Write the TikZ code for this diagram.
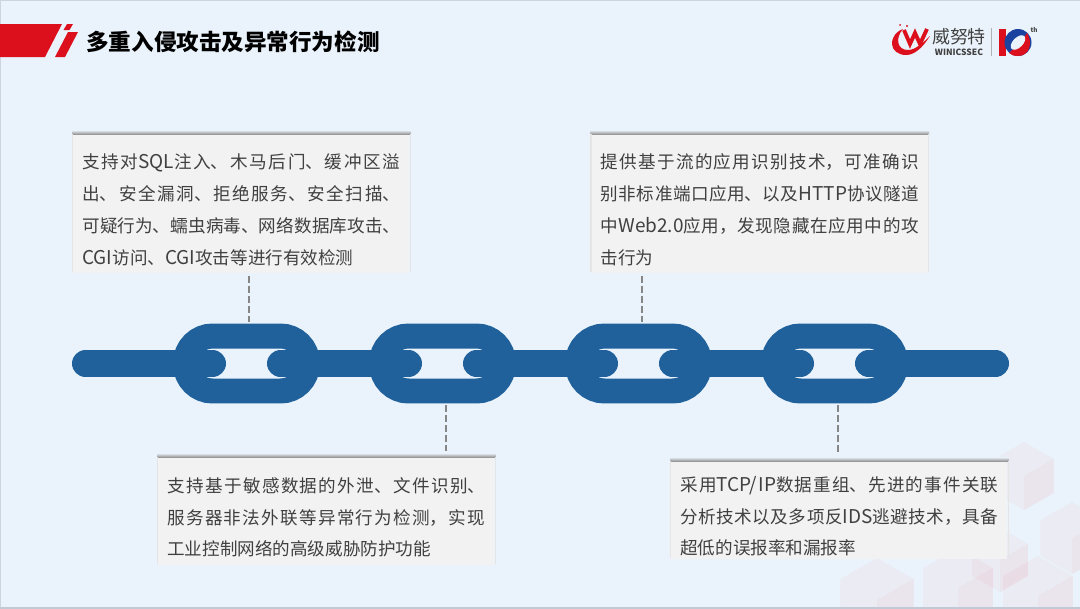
\documentclass[tikz,border=0pt]{standalone}
\usepackage{fontspec}
\setmainfont{Noto Sans CJK SC}
\usepackage{tikz}
\usetikzlibrary{calc}
\XeTeXlinebreaklocale "zh"
\XeTeXlinebreakskip=0pt plus 2pt
\newcommand{\en}[1]{{\fontsize{10.8}{18.3}\selectfont #1}}
\definecolor{pagebg}{RGB}{234,243,251}
\definecolor{edgegray}{RGB}{203,212,224}
\definecolor{chainblue}{RGB}{32,97,155}
\definecolor{boxgray}{RGB}{242,242,242}
\definecolor{bannerred}{RGB}{220,16,28}
\definecolor{logoblue}{RGB}{28,66,160}
\definecolor{textdark}{RGB}{64,64,64}

\begin{document}
\begin{tikzpicture}[
  x=0.02cm, y=-0.02cm,
  linkbox/.style={rectangle, draw=chainblue, line width=0.5cm, rounded corners=0.54cm,
                  minimum width=2.44cm, minimum height=1.1cm, inner sep=0pt},
  chainbar/.style={draw=chainblue, line width=0.54cm, line cap=round},
  infobox/.style={rectangle, fill=boxgray, text=textdark, anchor=north west, align=justify,
                  font=\fontsize{10}{18.1}\selectfont, inner xsep=0.18cm, inner ysep=0pt,
                  execute at begin node={\tolerance=9999\hbadness=10000\lineskiplimit=-10pt\rule{0pt}{0.54cm}}},
  leader/.style={draw=gray!95, line width=1.35pt, dash pattern=on 0.14cm off 0.06cm},
  topedge/.style={top color=pagebg, bottom color=gray!80},
  sideedge/.style={draw=gray!20, line width=0.6pt},
  hexfill/.style={fill=red!75!pink, fill opacity=0.04},
  hexside/.style={fill=red!75!pink, fill opacity=0.035}
]
\useasboundingbox (0,0) rectangle (1080,609);
\fill[pagebg] (0,0) rectangle (1080,609);
% ── Cubes in the corner ───────────────
\foreach \cx/\cy/\r in {1024/476/34, 1072/538/36, 877/600/42, 958/588/40, 1038/596/40, 1000/560/32}{
  \fill[hexfill] (\cx,\cy-\r) -- (\cx+.87*\r,\cy-.5*\r) -- (\cx+.87*\r,\cy+.5*\r)
    -- (\cx,\cy+\r) -- (\cx-.87*\r,\cy+.5*\r) -- (\cx-.87*\r,\cy-.5*\r) -- cycle;
  \fill[hexside] (\cx,\cy) -- (\cx+.87*\r,\cy-.5*\r) -- (\cx+.87*\r,\cy+.5*\r) -- (\cx,\cy+\r) -- cycle;
}
\fill[edgegray] (0,0) rectangle (1080,1.2);
\fill[edgegray] (0,0) rectangle (1,609);
\fill[edgegray!95!black] (0,606.5) rectangle (1080,609);
% ── Header ────────────────────────────
\fill[bannerred] (0,24) -- (62,24) -- (45,57) -- (0,57) -- cycle;
\fill[bannerred] (67,24) -- (73,24) -- (69.5,30) -- (63.5,30) -- cycle;
\fill[bannerred] (68,32) -- (78,32) -- (65,57) -- (55,57) -- cycle;
\node[font=\fontsize{12.84}{16}\selectfont\bfseries, text=black, anchor=west, inner sep=0pt] (title) at (86,42)
  {多重入侵攻击及异常行为检测};
% ── Logo ──────────────────────────────
\fill[bannerred] (892,44) .. controls (892,36) and (897,31) .. (903,29)
  .. controls (895,38) and (897,50) .. (908,50) .. controls (915,50) and (923,43) .. (930,36)
  .. controls (923,47) and (915,55) .. (906,55) .. controls (898,55) and (892,50) .. (892,44) -- cycle;
\draw[bannerred, line width=2.2pt, line join=miter] (904,30) -- (910,44) -- (915,33) -- (920,44) -- (927,29);
\fill[bannerred] (900,25) circle (1) (907,26) circle (1.2);
\node[font=\fontsize{10.2}{12}\selectfont, text=textdark, inner sep=0pt] (logocn) at (959,37) {威努特};
\node[font=\fontsize{4.9}{6}\selectfont\bfseries, text=textdark, inner sep=0pt] (logoen) at (959,52) {WINICSSEC};
\fill[gray!60] (990.6,28) rectangle (991.6,56);
\fill[bannerred] (999,29) rectangle (1006,56);
\fill[logoblue] (1018,42.5) circle (13.5);
\fill[bannerred] (1009,53) .. controls (1018,45) and (1024,38) .. (1027,33)
  .. controls (1033,42) and (1030,56) .. (1018,56) .. controls (1014,56) and (1011,55) .. (1009,53) -- cycle;
\fill[pagebg, rotate around={45:(1018,42.5)}] (1018,42.5) ellipse (9 and 5);
\node[font=\fontsize{3.6}{4}\selectfont\bfseries, text=textdark, inner sep=0pt] (logoth) at (1034,30.5) {th};
% ── Chain ─────────────────────────────
\foreach \i/\x in {1/246.5, 2/442.5, 3/638.5, 4/834.5}
  \node[linkbox] (link\i) at (\x,363.5) {};
\coordinate (chainL) at (85.5,363.5);
\coordinate (chainR) at (995.5,363.5);
\draw[chainbar] (chainL) -- ($(link1)+(-34,0)$);
\foreach \a/\b in {1/2, 2/3, 3/4}
  \draw[chainbar] ($(link\a)+(34,0)$) -- ($(link\b)+(-34,0)$);
\draw[chainbar] ($(link4)+(34,0)$) -- (chainR);
% ── Text boxes ────────────────────────
\node[infobox, text width=6.36cm, minimum height=2.78cm] (box1) at (73,134)
  {支持对\en{SQL}注入、木马后门、缓冲区溢\linebreak 出、安全漏洞、拒绝服务、安全扫描、\linebreak 可疑行为、蠕虫病毒、网络数据库攻击、\linebreak \en{CGI}访问、\en{CGI}攻击等进行有效检测};
\node[infobox, text width=6.36cm, minimum height=2.16cm] (box2) at (158,457)
  {支持基于敏感数据的外泄、文件识别、\linebreak 服务器非法外联等异常行为检测，实现\linebreak 工业控制网络的高级威胁防护功能};
\node[infobox, text width=6.36cm, minimum height=2.78cm] (box3) at (591.5,134)
  {提供基于流的应用识别技术，可准确识\linebreak 别非标准端口应用、以及\en{HTTP}协议隧道\linebreak 中\en{Web2.0}应用，发现隐藏在应用中的攻\linebreak 击行为};
\node[infobox, text width=6.36cm, minimum height=1.96cm] (box4) at (671,461)
  {采用\en{TCP/IP}数据重组、先进的事件关联\linebreak 分析技术以及多项反\en{IDS}逃避技术，具备\linebreak 超低的误报率和漏报率};
\foreach \b in {box1, box2, box3, box4}{
  \shade[topedge] ($(\b.north west)+(-1,-4)$) rectangle ($(\b.north east)+(1,0)$);
  \draw[sideedge] ($(\b.north west)+(-.5,0)$) -- ($(\b.south west)+(-.5,-2)$);
  \draw[sideedge] ($(\b.north east)+(.5,0)$) -- ($(\b.south east)+(.5,-2)$);
}
% ── Leaders ───────────────────────────
\coordinate (drop1) at (249,322);
\coordinate (drop2) at (446,405);
\coordinate (drop3) at (642,322);
\coordinate (drop4) at (838,405);
\draw[leader] ($(drop1 |- box1.south)+(0,2)$) -- (drop1);
\draw[leader] (drop2) -- ($(drop2 |- box2.north)+(0,-6)$);
\draw[leader] ($(drop3 |- box3.south)+(0,2)$) -- (drop3);
\draw[leader] (drop4) -- ($(drop4 |- box4.north)+(0,-9)$);
\end{tikzpicture}
\end{document}
